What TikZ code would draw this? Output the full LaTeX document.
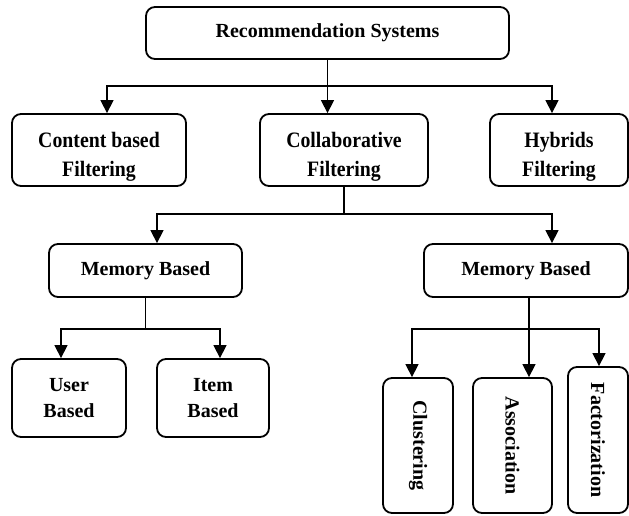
\documentclass[tikz,border=0pt]{standalone}
\usepackage{fontspec}
\setmainfont{Liberation Serif}
\newfontfamily\condfont[FakeStretch=0.9]{Liberation Serif}
\usetikzlibrary{arrows.meta}
\newcommand\lowtext[2]{\raisebox{-#1}[\height][\depth]{\begin{tabular}{@{}c@{}}#2\end{tabular}}}
\tikzset{
  box/.style={draw=black, line width=1.8pt, rounded corners=9pt, fill=white,
    align=center, inner sep=0pt, font=\fontsize{20}{26}\selectfont\bfseries},
  cbox/.style={box, font=\condfont\fontsize{22}{29}\selectfont\bfseries},
  ln/.style={draw=black, line width=1.4pt},
  arr/.style={ln, -{Triangle[width=13pt,length=13pt]}},
}
\begin{document}
\begin{tikzpicture}[x=1pt,y=-1pt]
\useasboundingbox (0,0) rectangle (629,516);
% nodes
\node[box, minimum width=363pt, minimum height=52pt] (top) at (327.5,33) {Recommendation Systems};
\node[cbox, minimum width=174pt, minimum height=72pt] (cbf) at (99,150) {\lowtext{6pt}{Content based\\Filtering}};
\node[cbox, minimum width=168pt, minimum height=72pt] (cf) at (344,150) {\lowtext{6pt}{Collaborative\\Filtering}};
\node[cbox, minimum width=138pt, minimum height=72pt] (hf) at (559,150) {\lowtext{6pt}{Hybrids\\Filtering}};
\node[box, minimum width=193pt, minimum height=53pt] (ml) at (145.5,270.5) {Memory Based};
\node[box, minimum width=204pt, minimum height=53pt] (mr) at (526,270.5) {Memory Based};
\node[box, minimum width=114pt, minimum height=78pt] (ub) at (69,398) {User\\Based};
\node[box, minimum width=112pt, minimum height=78pt] (ib) at (213,398) {Item\\Based};
\node[box, minimum width=70pt, minimum height=135pt] (clu) at (418,445.5) {\rotatebox{-90}{Clustering}};
\node[box, minimum width=79pt, minimum height=135pt] (asc) at (512.5,445.5) {\rotatebox{-90}{Association}};
\node[box, minimum width=60pt, minimum height=146pt] (fac) at (598,440) {\rotatebox{-90}{Factorization}};
% junctions
\coordinate (j1) at (327.5,86);
\coordinate (j2) at (344,214);
\coordinate (j3) at (145.5,329);
\coordinate (j4) at (529,329);
% connectors
\draw[ln] (top.south) -- (j1);
\draw[arr] (j1) -| ([xshift=8pt]cbf.north);
\draw[arr] (j1) -- ([xshift=-16.5pt]cf.north);
\draw[arr] (j1) -| ([xshift=-7pt]hf.north);
\draw[ln] (cf.south) -- (j2);
\draw[arr] (j2) -| ([xshift=11.5pt]ml.north);
\draw[arr] (j2) -| ([xshift=26pt]mr.north);
\draw[ln] (ml.south) -- (j3);
\draw[arr] (j3) -| ([xshift=-8pt]ub.north);
\draw[arr] (j3) -| ([xshift=7pt]ib.north);
\draw[ln] ([xshift=3pt]mr.south) -- (j4);
\draw[arr] (j4) -| ([xshift=-6pt]clu.north);
\draw[arr] (j4) -- ([xshift=16.5pt]asc.north);
\draw[arr] (j4) -| ([xshift=1pt]fac.north);
\end{tikzpicture}
\end{document}
